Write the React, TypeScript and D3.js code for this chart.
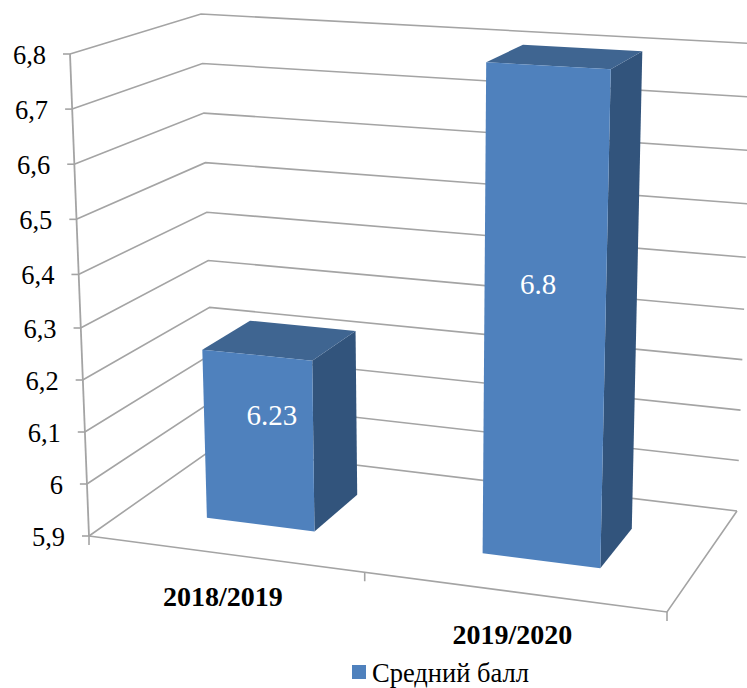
import React from "react";
import * as d3 from "d3";

const categories = ["2018/2019", "2019/2020"];
const seriesName = "Средний балл";
const values = [6.23, 6.8];
const valueLabels = ["6.23", "6.8"];
const yTicks = [5.9, 6, 6.1, 6.2, 6.3, 6.4, 6.5, 6.6, 6.7, 6.8];

const width = 747;
const height = 688;
const serif = "'Liberation Serif', 'Times New Roman', serif";

const gridColor = "#a4a4a4";
const frontColor = "#4f81bd";
const topColor = "#3f6591";
const sideColor = "#32547c";

// perspective box: each vertical edge gets its own value scales (slightly bent, bottom is further away)
const yDomain = [5.9, 6.35, 6.8];
const edge = (xs: number[], ys: number[]) => ({
  x: d3.scaleLinear().domain(yDomain).range(xs),
  y: d3.scaleLinear().domain(yDomain).range(ys),
});
const frontLeft = edge([89, 79.5, 70], [536, 302, 54]);
const frontRight = edge([667, 675, 683], [612, 357, 89]);
const backLeft = edge([214, 207.5, 201], [448, 237, 14]);
const backRight = edge([737, 745, 752], [511, 284, 43.5]);

// position along the floor is not quite even because of the perspective
const uWarp = d3
  .scaleLinear()
  .domain([0, 0.15, 0.35, 0.5, 0.65, 0.85, 1])
  .range([0, 0.139, 0.331, 0.477, 0.631, 0.841, 1]);

const project = (u: number, v: number, val: number): [number, number] => {
  const w = uWarp(u);
  const mix = (a: number, b: number, c: number, d: number) =>
    a * (1 - w) * (1 - v) + b * w * (1 - v) + c * (1 - w) * v + d * w * v;
  return [
    mix(frontLeft.x(val), frontRight.x(val), backLeft.x(val), backRight.x(val)),
    mix(frontLeft.y(val), frontRight.y(val), backLeft.y(val), backRight.y(val)),
  ];
};

const band = d3
  .scaleBand<string>()
  .domain(categories)
  .range([0, 1])
  .paddingInner(0.6)
  .paddingOuter(0.3);

const depthFront = 0.32;
const depthBack = 0.72;
const base = yTicks[0];
const top = yTicks[yTicks.length - 1];

const line = d3.line();
const poly = (pts: [number, number][]) => line(pts) + "Z";

// data labels don't sit on the face centre in the original
const labelNudge = [
  [13, -15],
  [-7, -26],
];

const App = () => {
  const bars = categories.map((c, i) => {
    const u0 = band(c)!;
    const u1 = u0 + band.bandwidth();
    const val = values[i];
    const mid = (base + val) / 2;
    const [cx, cy] = project((u0 + u1) / 2, depthFront, mid);
    return {
      name: c,
      front: poly([
        project(u0, depthFront, val),
        project(u1, depthFront, val),
        project(u1, depthFront, base),
        project(u0, depthFront, base),
      ]),
      side: poly([
        project(u1, depthFront, val),
        project(u1, depthBack, val),
        project(u1, depthBack, base),
        project(u1, depthFront, base),
      ]),
      lid: poly([
        project(u0, depthFront, val),
        project(u0, depthBack, val),
        project(u1, depthBack, val),
        project(u1, depthFront, val),
      ]),
      labelX: cx + labelNudge[i][0],
      labelY: cy + labelNudge[i][1],
      label: valueLabels[i],
    };
  });

  return (
    <svg
      width={width}
      height={height}
      style={{ position: "absolute", left: 0, top: 0, background: "#fff" }}
    >
      {/* floor */}
      <path
        d={line([project(0, 0, base), project(1, 0, base), project(1, 1, base)])!}
        fill="none"
        stroke={gridColor}
        strokeWidth={1.6}
      />
      {/* left axis */}
      <path
        d={line([project(0, 0, top), project(0, 0, base)])!}
        fill="none"
        stroke={gridColor}
        strokeWidth={1.8}
      />
      {/* gridlines round the two walls */}
      {yTicks.map((t) => (
        <path
          key={t}
          d={line([project(0, 0, t), project(0, 1, t), project(1, 1, t)])!}
          fill="none"
          stroke={gridColor}
          strokeWidth={1.6}
        />
      ))}
      {/* y ticks and labels */}
      {yTicks.map((t) => {
        const [x, y] = project(0, 0, t);
        return (
          <g key={t}>
            <line x1={x - 7} x2={x} y1={y} y2={y} stroke={gridColor} strokeWidth={1.6} />
            <text
              x={x - 24}
              y={y + 10}
              textAnchor="end"
              fontFamily={serif}
              fontSize={26.5}
              fill="#000"
            >
              {String(t).replace(".", ",")}
            </text>
          </g>
        );
      })}
      {/* x ticks */}
      {[0, 0.5, 1].map((u) => {
        const [x, y] = project(u, 0, base);
        return (
          <line key={u} x1={x} x2={x} y1={y} y2={y + 9} stroke={gridColor} strokeWidth={1.6} />
        );
      })}
      {/* bars */}
      {bars.map((b) => (
        <g key={b.name}>
          <path d={b.side} fill={sideColor} />
          <path d={b.lid} fill={topColor} />
          <path d={b.front} fill={frontColor} />
          <text
            x={b.labelX}
            y={b.labelY}
            textAnchor="middle"
            fontFamily={serif}
            fontSize={29}
            fill="#fff"
          >
            {b.label}
          </text>
        </g>
      ))}
      {/* category labels hang under the front edge */}
      {categories.map((c) => {
        const [x, y] = project(band(c)! + band.bandwidth() / 2, 0, base);
        return (
          <text
            key={c}
            x={x - 2}
            y={y + 52}
            textAnchor="middle"
            fontFamily={serif}
            fontSize={28}
            fontWeight="bold"
            fill="#000"
          >
            {c}
          </text>
        );
      })}
      {/* legend */}
      <rect x={352} y={665} width={14} height={14} fill={frontColor} />
      <text x={372} y={682} fontFamily={serif} fontSize={26.5} fill="#000">
        {seriesName}
      </text>
    </svg>
  );
};

export default App;
